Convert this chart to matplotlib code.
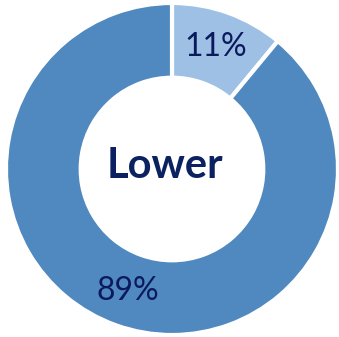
import matplotlib.pyplot as plt

# Data
labels = ["Higher", "Lower"]
shares = [11, 89]
colors = ["#9DC0E4", "#4F89BF"]
center_text = "Lower"

plt.rcParams['font.family'] = ['Lato', 'DejaVu Sans']

fig = plt.figure(figsize=(3.39, 3.37), dpi=100)
ax = fig.add_axes([0, 0, 1, 1])

wedges, texts = ax.pie(
    shares, colors=colors, startangle=90, counterclock=False,
    radius=1.0, labels=[f"{s}%" for s in shares], labeldistance=0.78,
    wedgeprops=dict(width=0.45, edgecolor="white", linewidth=3),
    textprops=dict(color="#0B1A5C", fontsize=23, ha="center", va="center"),
)

ax.text(-0.04, 0.02, center_text, ha="center", va="center",
        fontsize=30, fontweight="bold", color="#0B2160")

ax.set_aspect("auto")
ax.set_xlim(-1.036, 1.006)
ax.set_ylim(-1.012, 1.018)
ax.axis("off")

fig.savefig("out.png", dpi=100)
